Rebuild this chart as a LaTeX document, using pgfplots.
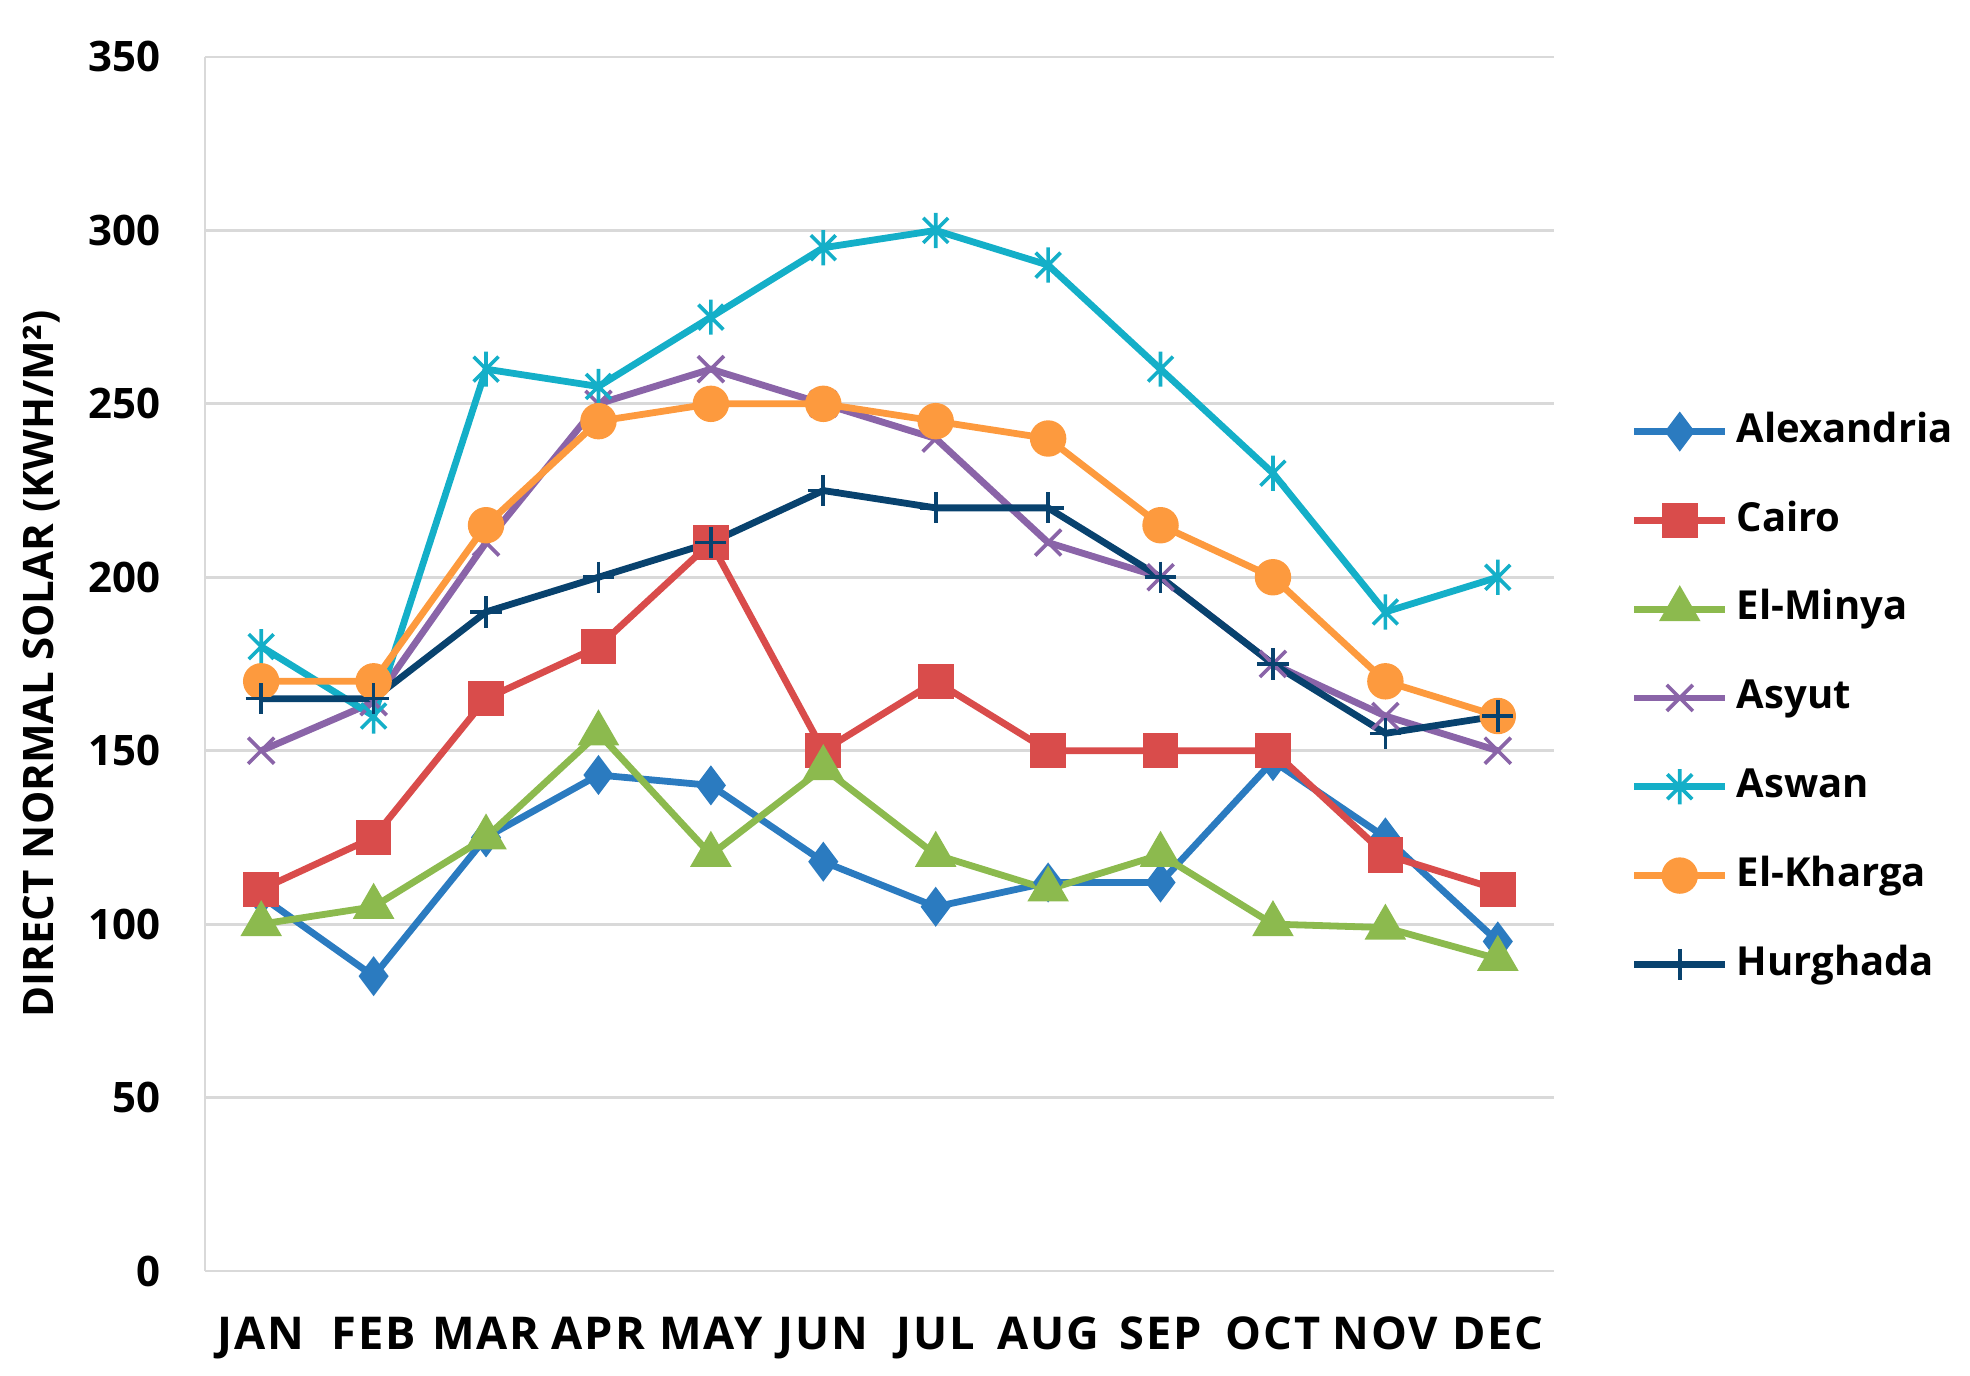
\documentclass[border=0pt]{standalone}
\usepackage{fontspec}
\setmainfont{Open Sans}
\newfontfamily\spaced{Open Sans}[LetterSpace=4]
\usepackage{pgfplots}
\pgfplotsset{compat=1.18}
\definecolor{alexc}{HTML}{2B7BC0}
\definecolor{cairoc}{HTML}{D94C4B}
\definecolor{minyac}{HTML}{8CBA4E}
\definecolor{asyutc}{HTML}{8A64A8}
\definecolor{aswanc}{HTML}{14AFC8}
\definecolor{kharc}{HTML}{FD9A3E}
\definecolor{hurgc}{HTML}{08426E}
\definecolor{gridgray}{HTML}{D9D9D9}
\pgfdeclareplotmark{excelstar}{%
  \pgfpathmoveto{\pgfqpoint{0pt}{\pgfplotmarksize}}%
  \pgfpathlineto{\pgfqpoint{0pt}{-\pgfplotmarksize}}%
  \pgfpathmoveto{\pgfqpoint{-.7071\pgfplotmarksize}{-.7071\pgfplotmarksize}}%
  \pgfpathlineto{\pgfqpoint{.7071\pgfplotmarksize}{.7071\pgfplotmarksize}}%
  \pgfpathmoveto{\pgfqpoint{-.7071\pgfplotmarksize}{.7071\pgfplotmarksize}}%
  \pgfpathlineto{\pgfqpoint{.7071\pgfplotmarksize}{-.7071\pgfplotmarksize}}%
  \pgfusepathqstroke
}
\begin{document}
\begin{tikzpicture}
\useasboundingbox (-51.25pt,-26.25pt) rectangle (441.25pt,317.75pt);
\begin{axis}[
  width=337.25pt, height=303.5pt, scale only axis,
  xmin=-0.5, xmax=11.5, ymin=0, ymax=350,
  xtick={0,1,2,3,4,5,6,7,8,9,10,11},
  xticklabels={JAN,FEB,MAR,APR,MAY,JUN,JUL,AUG,SEP,OCT,NOV,DEC},
  ytick={0,50,100,150,200,250,300,350},
  ymajorgrids, grid style={draw=gridgray, line width=0.7pt},
  axis x line*=bottom, axis y line*=left,
  axis line style={-, draw=gridgray, line width=0.7pt},
  tick style={draw=none}, major tick length=0pt,
  /pgf/number format/assume math mode=true,
  yticklabel style={font=\bfseries\fontsize{10.5}{12}\selectfont, inner sep=0pt, anchor=east, xshift=-11pt},
  xticklabel style={font=\spaced\bfseries\fontsize{11.3}{13}\selectfont, inner sep=0pt, anchor=north, yshift=-11.3pt},
  ylabel={DIRECT NORMAL SOLAR (KWH/M²)},
  ylabel style={font=\bfseries\fontsize{10.5}{12}\selectfont, at={(axis description cs:-0.1211,0.5)}, anchor=center, rotate=0, inner sep=0pt},
  legend cell align=left,
  legend style={draw=none, fill=none, at={(axis description cs:1.0563,0.472)}, anchor=west, inner sep=0pt,
    row sep=8pt,
    font=\bfseries\fontsize{10}{12}\selectfont,
    nodes={text height=7.8pt, text depth=2.4pt, inner sep=2pt}},
  legend image code/.code={%
    \draw[mark repeat=2, mark phase=2, #1] plot coordinates {(0pt,0pt) (11.4pt,0pt) (22.8pt,0pt)};
  },
  every axis plot/.append style={line width=1.7pt},
]
\addplot[color=alexc, mark=diamond*, mark size=3.6pt, mark options={solid}] coordinates {
(0,108) (1,85) (2,125) (3,143) (4,140) (5,118) (6,105) (7,112) (8,112) (9,147) (10,125) (11,95)};
\addlegendentry{Alexandria}
\addplot[color=cairoc, mark=square*, mark size=3.6pt, mark options={solid}] coordinates {
(0,110) (1,125) (2,165) (3,180) (4,210) (5,150) (6,170) (7,150) (8,150) (9,150) (10,120) (11,110)};
\addlegendentry{Cairo}
\addplot[color=minyac, mark=triangle*, mark size=4.3pt, mark options={solid}] coordinates {
(0,100) (1,105) (2,125) (3,155) (4,120) (5,145) (6,120) (7,110) (8,120) (9,100) (10,99) (11,90)};
\addlegendentry{El-Minya}
\addplot[color=asyutc, mark=x, mark size=4.6pt, mark options={solid, line width=0.9pt}] coordinates {
(0,150) (1,164) (2,210) (3,250) (4,260) (5,250) (6,240) (7,210) (8,200) (9,175) (10,160) (11,150)};
\addlegendentry{Asyut}
\addplot[color=aswanc, mark=excelstar, mark size=4.4pt, mark options={solid, line width=0.9pt}] coordinates {
(0,180) (1,160) (2,260) (3,255) (4,275) (5,295) (6,300) (7,290) (8,260) (9,230) (10,190) (11,200)};
\addlegendentry{Aswan}
\addplot[color=kharc, mark=*, mark size=3.7pt, mark options={solid}] coordinates {
(0,170) (1,170) (2,215) (3,245) (4,250) (5,250) (6,245) (7,240) (8,215) (9,200) (10,170) (11,160)};
\addlegendentry{El-Kharga}
\addplot[color=hurgc, mark=+, mark size=3.9pt, mark options={solid, line width=0.9pt}] coordinates {
(0,165) (1,165) (2,190) (3,200) (4,210) (5,225) (6,220) (7,220) (8,200) (9,175) (10,155) (11,160)};
\addlegendentry{Hurghada}
\end{axis}
\end{tikzpicture}
\end{document}
